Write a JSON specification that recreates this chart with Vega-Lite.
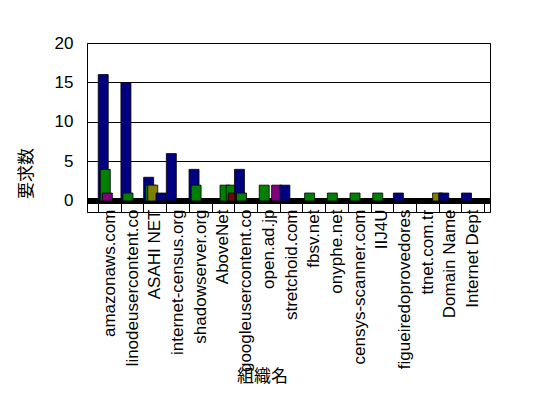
{
  "$schema": "https://vega.github.io/schema/vega-lite/v6.json",
  "width": 403,
  "height": 169,
  "autosize": {"type": "none"},
  "padding": {"left": 87, "top": 43, "right": 58, "bottom": 186},
  "background": "white",
  "config": {"view": {"stroke": "black", "strokeWidth": 1}, "font": "Liberation Sans"},
  "data": {
    "values": [
      {"org": "amazonaws.com", "slot": 0, "group": "A", "value": 16},
      {"org": "amazonaws.com", "slot": 1, "group": "B", "value": 4},
      {"org": "amazonaws.com", "slot": 2, "group": "E", "value": 1},
      {"org": "linodeusercontent.co", "slot": 0, "group": "A", "value": 15},
      {"org": "linodeusercontent.co", "slot": 1, "group": "B", "value": 1},
      {"org": "ASAHI NET", "slot": 0, "group": "A", "value": 3},
      {"org": "ASAHI NET", "slot": 1, "group": "B", "value": 2},
      {"org": "ASAHI NET", "slot": 2, "group": "C", "value": 2},
      {"org": "ASAHI NET", "slot": 6, "group": "A", "value": 1},
      {"org": "internet-census.org", "slot": 0, "group": "A", "value": 6},
      {"org": "shadowserver.org", "slot": 0, "group": "A", "value": 4},
      {"org": "shadowserver.org", "slot": 1, "group": "B", "value": 2},
      {"org": "AboveNet", "slot": 4, "group": "B", "value": 2},
      {"org": "AboveNet", "slot": 7, "group": "B", "value": 2},
      {"org": "AboveNet", "slot": 8, "group": "D", "value": 1},
      {"org": "googleusercontent.co", "slot": 0, "group": "A", "value": 4},
      {"org": "googleusercontent.co", "slot": 1, "group": "B", "value": 1},
      {"org": "open.ad.jp", "slot": 1, "group": "B", "value": 2},
      {"org": "open.ad.jp", "slot": 7, "group": "E", "value": 2},
      {"org": "stretchoid.com", "slot": 0, "group": "A", "value": 2},
      {"org": "fbsv.net", "slot": 1, "group": "B", "value": 1},
      {"org": "onyphe.net", "slot": 1, "group": "B", "value": 1},
      {"org": "censys-scanner.com", "slot": 1, "group": "B", "value": 1},
      {"org": "IIJ4U", "slot": 1, "group": "B", "value": 1},
      {"org": "figueiredoprovedores", "slot": 0, "group": "A", "value": 1},
      {"org": "ttnet.com.tr", "slot": 8, "group": "C", "value": 1},
      {"org": "Domain Name", "slot": 0, "group": "A", "value": 1},
      {"org": "Internet Dept", "slot": 0, "group": "A", "value": 1}
    ]
  },
  "layer": [
    {
      "mark": {"type": "rule", "color": "black", "strokeWidth": 5},
      "encoding": {"y": {"datum": 0}}
    },
    {
      "mark": {"type": "bar", "width": 10, "stroke": "black", "strokeWidth": 0.8},
      "encoding": {
        "x": {
          "field": "org",
          "type": "nominal",
          "sort": null,
          "scale": {"paddingInner": 0, "paddingOuter": 0.375, "align": 0.65},
          "axis": {
            "title": "組織名",
            "titleFont": "Noto Sans CJK JP",
            "titleFontSize": 17,
            "titleFontWeight": "normal",
            "titleColor": "black",
            "titleX": 175,
            "titleY": 164,
            "titleAlign": "center",
            "titleBaseline": "middle",
            "labelAngle": -90,
            "labelFontSize": 17,
            "labelColor": "black",
            "labelPadding": 6,
            "labelLimit": 0,
            "tickBand": "extent",
            "tickSize": -9,
            "tickColor": "black",
            "domainColor": "black",
            "grid": false
          }
        },
        "xOffset": {
          "field": "slot",
          "type": "ordinal",
          "scale": {"domain": [0, 1, 2, 3, 4, 5, 6, 7, 8], "paddingInner": 0, "paddingOuter": 1.47, "align": 1}
        },
        "y": {
          "field": "value",
          "type": "quantitative",
          "scale": {"domain": [-1.4, 20], "nice": false, "zero": false},
          "axis": {
            "values": [0, 5, 10, 15, 20],
            "title": "要求数",
            "titleFont": "Noto Sans CJK JP",
            "titleFontSize": 17,
            "titleFontWeight": "normal",
            "titleColor": "black",
            "titleX": -61,
            "titleY": 130,
            "titleAlign": "center",
            "titleBaseline": "middle",
            "grid": true,
            "gridColor": "black",
            "gridOpacity": 1,
            "ticks": false,
            "domain": false,
            "labelPadding": 14,
            "labelFontSize": 17,
            "labelColor": "black"
          }
        },
        "y2": {"datum": 0},
        "color": {
          "field": "group",
          "type": "nominal",
          "scale": {"domain": ["A", "B", "C", "D", "E"], "range": ["#000080", "#008000", "#808000", "#800000", "#800080"]},
          "legend": null
        }
      }
    }
  ]
}
